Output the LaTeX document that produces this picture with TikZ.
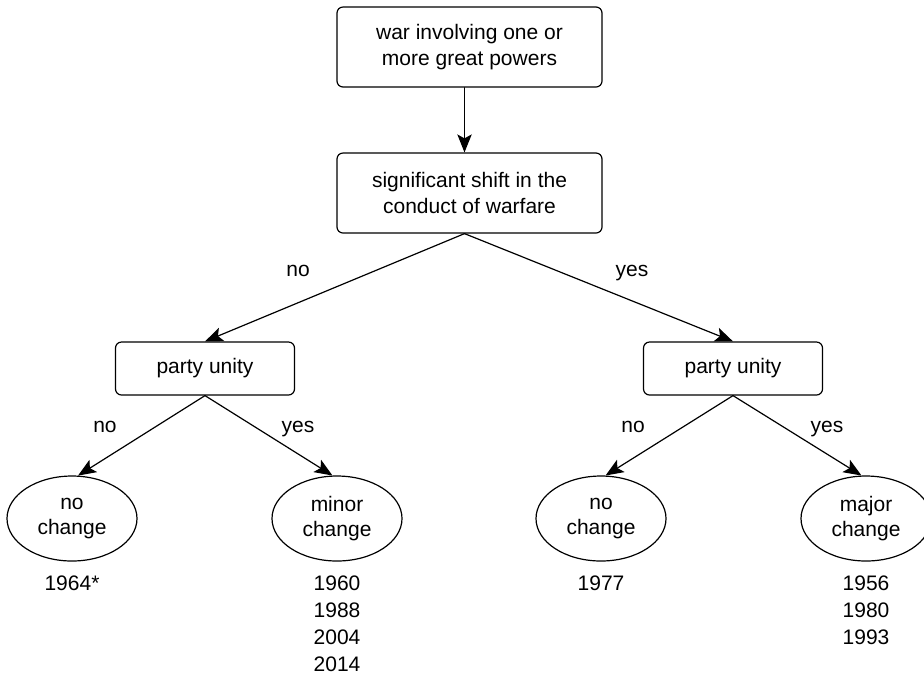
\documentclass[tikz,border=0pt]{standalone}
\usepackage{fontspec}
\setmainfont{Liberation Sans}
\usetikzlibrary{arrows.meta}
\usetikzlibrary{shapes.geometric}

\begin{document}
\begin{tikzpicture}[line cap=round,line join=round,>={Stealth[length=9pt,width=7.2pt,inset=2pt]},x=0.5pt,y=-0.5pt,
  every node/.style={font=\fontsize{10.5pt}{12.6pt}\selectfont},
  box/.style={draw,line width=0.6pt,rounded corners=3pt,align=center,inner sep=0pt},
  oval/.style={draw,line width=0.6pt,ellipse,minimum width=65pt,minimum height=42.5pt,inner sep=0pt,align=center},
  yrs/.style={align=center,font=\fontsize{10.5pt}{13.5pt}\selectfont},
  lbl/.style={inner sep=0pt,anchor=base}]
\useasboundingbox (0,0) rectangle (924,677);
% question boxes
\node[box,minimum width=132.5pt,minimum height=40pt] (war) at (469.5,47) {war involving one or\\more great powers};
\node[box,minimum width=132.5pt,minimum height=40pt] (shift) at (469.5,193) {significant shift in the\\conduct of warfare};
\node[box,minimum width=89.5pt,minimum height=26.5pt] (pu1) at (205,368.5) {party unity};
\node[box,minimum width=89.5pt,minimum height=26.5pt] (pu2) at (733,368.5) {party unity};
% outcomes
\node[oval] (nc1) at (72,518.5) {no\\change};
\node[oval] (mc) at (337,518.5) {minor\\change};
\node[oval] (nc2) at (601,518.5) {no\\change};
\node[oval] (jc) at (866,518.5) {major\\change};
\node[yrs] (y1) at (72,583) {1964*};
\node[yrs] (y2) at (337,623.5) {1960\\1988\\2004\\2014};
\node[yrs] (y3) at (601,583) {1977};
\node[yrs] (y4) at (866,610) {1956\\1980\\1993};
% arrows
\draw[line width=0.6pt,->] ([xshift=-2.5pt]war.south) -- ([xshift=-2.5pt]shift.north);
\draw[line width=0.6pt,->] ([xshift=-2.5pt]shift.south) -- (pu1.north);
\draw[line width=0.6pt,->] ([xshift=-2.5pt]shift.south) -- (pu2.north);
\draw[line width=0.6pt,->] (pu1.south) -- (nc1.82);
\draw[line width=0.6pt,->] (pu1.south) -- (mc.96);
\draw[line width=0.6pt,->] (pu2.south) -- (nc2.84);
\draw[line width=0.6pt,->] (pu2.south) -- (jc.96);
\node[lbl] (no1) at (298,276) {no};
\node[lbl] (yes1) at (632,276) {yes};
\node[lbl] (no2) at (105,432) {no};
\node[lbl] (yes2) at (298,432) {yes};
\node[lbl] (no3) at (633,432) {no};
\node[lbl] (yes3) at (827,432) {yes};
\end{tikzpicture}
\end{document}
